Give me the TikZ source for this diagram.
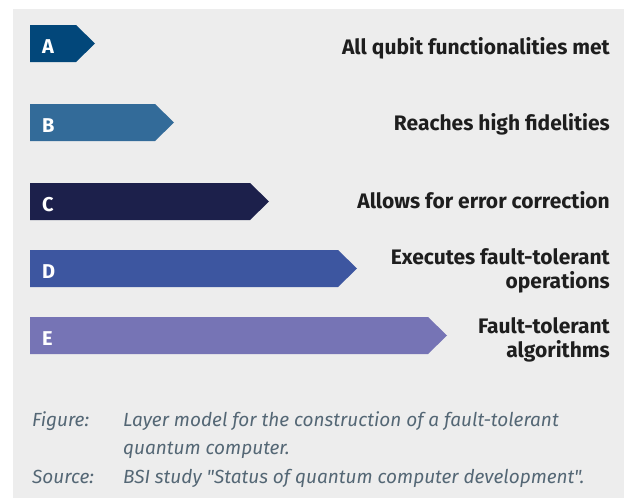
\documentclass[tikz,border=0pt]{standalone}
\usepackage{fontspec}
\setmainfont{Fira Sans}[BoldFont={Fira Sans Bold},ItalicFont={Fira Sans Italic}]
\newfontfamily\capfont{Fira Sans Italic}
\definecolor{bgc}{HTML}{EDEDED}
\definecolor{cA}{HTML}{02477A}
\definecolor{cB}{HTML}{336B99}
\definecolor{cC}{HTML}{1C204B}
\definecolor{cD}{HTML}{3D56A0}
\definecolor{cE}{HTML}{7674B5}
\definecolor{lbl}{HTML}{1E1E1E}
\definecolor{cap}{HTML}{546775}
\begin{document}
\begin{tikzpicture}[x=1pt,y=-1pt,
  letterbox/.style={anchor=base west,text=white,font=\fontsize{20}{22}\selectfont\bfseries,inner sep=0pt},
  labelbox/.style={anchor=east,align=right,text=lbl,font=\fontsize{21}{24}\selectfont\bfseries,inner sep=0pt},
  captxt/.style={anchor=base west,text=cap,font=\fontsize{19}{22}\capfont,inner sep=0pt}]
\useasboundingbox (0,0) rectangle (624,498);
\fill[white] (0,0) rectangle (624,498);
\fill[bgc] (13,9) rectangle (624,498);
\foreach \n/\c/\r/\t in {A/cA/76/25, B/cB/155/104, C/cC/250/183, D/cD/338/250, E/cE/428/317}{
  \fill[\c] (30,\t) -- (\r,\t) -- ({\r+19},{\t+18.5}) -- (\r,{\t+37}) -- (30,{\t+37}) -- cycle;
  \node[letterbox] (l\n) at (42,{\t+28}) {\n};
}
\node[labelbox] (tA) at (610,48) {All qubit functionalities met};
\node[labelbox] (tB) at (610,124) {Reaches high fidelities};
\node[labelbox] (tC) at (610,200) {Allows for error correction};
\node[labelbox] (tD) at (610,271) {Executes fault-tolerant\\operations};
\node[labelbox] (tE) at (610,340) {Fault-tolerant\\algorithms};
\node[captxt] (f1) at (32,426) {Figure:};
\node[captxt] (f2) at (123,426) {Layer model for the construction of a fault-tolerant};
\node[captxt] (f3) at (123,454) {quantum computer.};
\node[captxt] (s1) at (32,483) {Source:};
\node[captxt] (s2) at (123,483) {BSI study "Status of quantum computer development".};
\end{tikzpicture}
\end{document}
